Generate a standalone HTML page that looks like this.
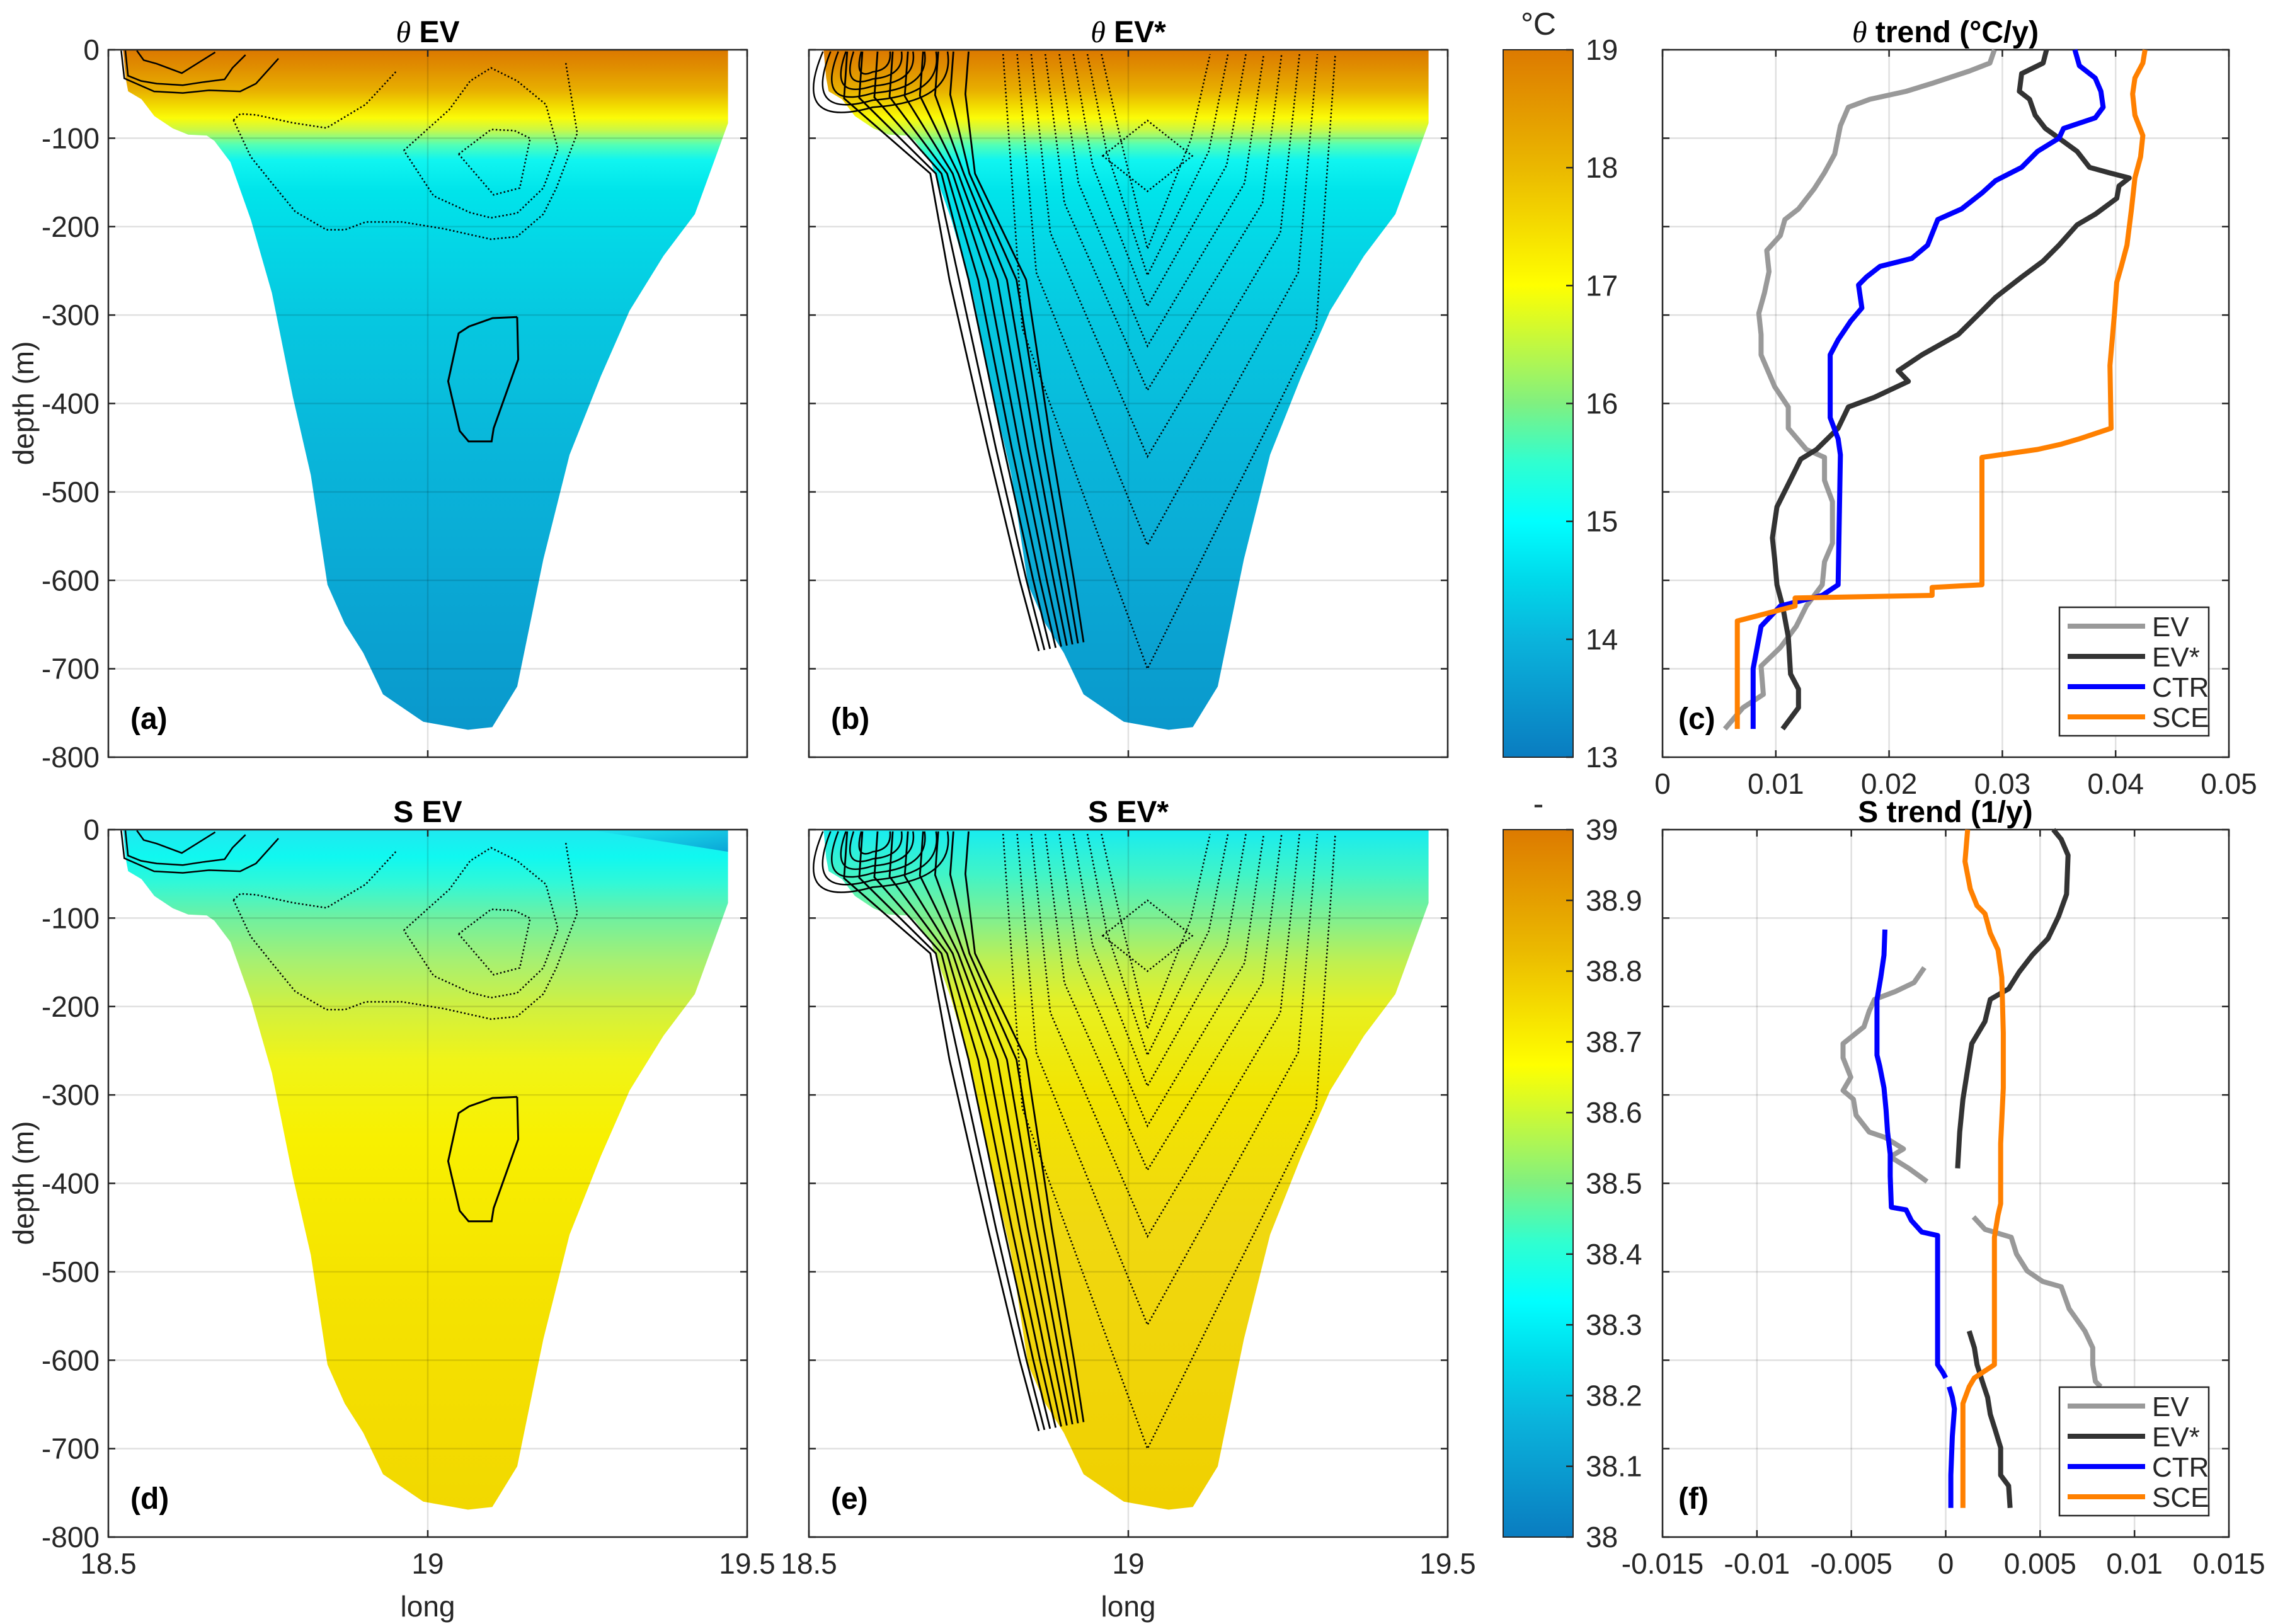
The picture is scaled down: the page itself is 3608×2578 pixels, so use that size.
<!DOCTYPE html>
<html><head><meta charset="utf-8">
<style>
html,body{margin:0;padding:0;background:#fff;}
svg{display:block;font-family:"Liberation Sans",sans-serif;}
</style></head>
<body>
<svg id="fig" width="3608" height="2578" viewBox="0 0 3608 2578" xmlns="http://www.w3.org/2000/svg">
<defs>
<linearGradient id="gTheta" gradientUnits="userSpaceOnUse" x1="0" y1="79" x2="0" y2="1160">
<stop offset="0" stop-color="#dc7800"/><stop offset="0.026" stop-color="#e08e00"/><stop offset="0.06" stop-color="#e8b000"/><stop offset="0.083" stop-color="#f2dc00"/><stop offset="0.1" stop-color="#fbfb08"/><stop offset="0.118" stop-color="#c8f848"/><stop offset="0.14" stop-color="#50ffb8"/><stop offset="0.162" stop-color="#10f5f0"/><stop offset="0.208" stop-color="#00e4ea"/><stop offset="0.286" stop-color="#04d6e6"/><stop offset="0.39" stop-color="#06c8e0"/><stop offset="0.584" stop-color="#09b6da"/><stop offset="0.78" stop-color="#0aa8d4"/><stop offset="1" stop-color="#0a98cc"/>
</linearGradient>
<linearGradient id="gSd" gradientUnits="userSpaceOnUse" x1="0" y1="1317" x2="0" y2="2398">
<stop offset="0" stop-color="#20e8f0"/><stop offset="0.04" stop-color="#10f8f0"/><stop offset="0.078" stop-color="#30f8d8"/><stop offset="0.13" stop-color="#70f0a0"/><stop offset="0.195" stop-color="#a8f070"/><stop offset="0.26" stop-color="#d0f040"/><stop offset="0.338" stop-color="#f0f418"/><stop offset="0.455" stop-color="#f8f000"/><stop offset="0.65" stop-color="#f5e400"/><stop offset="1" stop-color="#f2d800"/>
</linearGradient>
<linearGradient id="gSe" gradientUnits="userSpaceOnUse" x1="0" y1="1317" x2="0" y2="2398">
<stop offset="0" stop-color="#18ecf0"/><stop offset="0.065" stop-color="#40f4c8"/><stop offset="0.13" stop-color="#80f090"/><stop offset="0.195" stop-color="#c0f050"/><stop offset="0.26" stop-color="#e8f020"/><stop offset="0.39" stop-color="#f2e400"/><stop offset="0.584" stop-color="#f0d810"/><stop offset="1" stop-color="#f0d000"/>
</linearGradient>
<linearGradient id="gBar" x1="0" y1="0" x2="0" y2="1">
<stop offset="0" stop-color="#dd7a00"/><stop offset="0.167" stop-color="#eab800"/><stop offset="0.333" stop-color="#ffff00"/><stop offset="0.45" stop-color="#a8f55a"/><stop offset="0.5" stop-color="#80f080"/><stop offset="0.583" stop-color="#30ffd0"/><stop offset="0.667" stop-color="#00ffff"/><stop offset="0.75" stop-color="#00d8ea"/><stop offset="0.833" stop-color="#0ab4dc"/><stop offset="1" stop-color="#0a7cc0"/>
</linearGradient>
<linearGradient id="gDark" x1="0" y1="0" x2="1" y2="1">
<stop offset="0" stop-color="#0a90d0" stop-opacity="0"/><stop offset="1" stop-color="#0a90d0" stop-opacity="0.8"/>
</linearGradient>
</defs>
<g id="root"></g>
</svg>
<script>
// ---- section bathymetry (long, depth) ----
const bathyLong = [18.523,18.527,18.531,18.552,18.572,18.601,18.625,18.654,18.666,18.691,18.723,18.756,18.789,18.817,18.843,18.870,18.899,18.930,18.993,19.063,19.101,19.140,19.181,19.222,19.271,19.316,19.369,19.418,19.470,19.470];
const bathyDepth = [0,-32,-47,-56,-75,-89,-96,-97,-103,-127,-192,-275,-393,-481,-605,-649,-682,-729,-760,-769,-766,-720,-576,-458,-369,-295,-233,-186,-83,0];

// ---- theta trend (c) ----
const cEVdepth = [0,-15,-24,-38,-47,-56,-65,-86,-118,-139,-157,-180,-192,-210,-227,-251,-275,-298,-322,-345,-381,-404,-428,-452,-461,-487,-511,-558,-579,-605,-629,-652,-676,-697,-729,-744,-762,-768];
const cEVval = [0.0293,0.0289,0.0271,0.0238,0.0215,0.0183,0.0164,0.0157,0.0152,0.0143,0.0134,0.0120,0.0108,0.0104,0.0092,0.0094,0.0090,0.0085,0.0087,0.0087,0.0099,0.0111,0.0111,0.0127,0.0143,0.0143,0.0150,0.0150,0.0143,0.0141,0.0127,0.0118,0.0104,0.0087,0.0089,0.0071,0.0059,0.0055];
const cEVsDepth = [0,-15,-27,-47,-56,-74,-89,-100,-115,-133,-139,-145,-154,-168,-186,-198,-221,-239,-257,-280,-298,-322,-345,-363,-375,-393,-404,-428,-452,-463,-481,-517,-552,-576,-605,-629,-664,-706,-723,-744,-768];
const cEVsVal = [0.0339,0.0336,0.0317,0.0315,0.0324,0.0329,0.0338,0.0350,0.0366,0.0377,0.0394,0.0412,0.0403,0.0401,0.0382,0.0366,0.0350,0.0336,0.0317,0.0294,0.0280,0.0261,0.0229,0.0208,0.0217,0.0187,0.0164,0.0155,0.0136,0.0122,0.0115,0.0101,0.0097,0.0099,0.0101,0.0106,0.0111,0.0113,0.0120,0.0120,0.0106];
const cCTRdepth = [0,-18,-32,-47,-65,-77,-89,-100,-115,-133,-148,-162,-180,-192,-221,-236,-245,-257,-266,-292,-307,-328,-345,-416,-440,-458,-605,-617,-629,-652,-700,-768];
const cCTRval = [0.0364,0.0368,0.0382,0.0387,0.0389,0.0382,0.0354,0.0350,0.0331,0.0317,0.0294,0.0282,0.0264,0.0243,0.0234,0.0220,0.0192,0.0180,0.0173,0.0176,0.0166,0.0155,0.0148,0.0148,0.0155,0.0157,0.0155,0.0141,0.0104,0.0087,0.0080,0.0080];
const cSCEdepth = [0,-15,-32,-50,-74,-97,-121,-145,-180,-221,-245,-263,-298,-357,-428,-440,-446,-452,-461,-605,-608,-617,-620,-629,-638,-646,-768];
const cSCEval = [0.0426,0.0424,0.0417,0.0415,0.0417,0.0424,0.0422,0.0417,0.0414,0.0410,0.0405,0.0401,0.0399,0.0395,0.0396,0.0368,0.0352,0.0331,0.0282,0.0282,0.0238,0.0238,0.0117,0.0117,0.0090,0.0066,0.0066];

// ---- salinity trend (f) ----
const fEV1depth = [-156,-173,-183,-192,-205,-223,-242,-258,-280,-295,-305,-323,-342,-348,-361,-370,-383,-398];
const fEV1val = [-0.00113,-0.00168,-0.00266,-0.00377,-0.00405,-0.00433,-0.00544,-0.00544,-0.00503,-0.00544,-0.00489,-0.00475,-0.00405,-0.00322,-0.00224,-0.00294,-0.00196,-0.00099];
const fEV2depth = [-438,-452,-461,-480,-499,-511,-517,-542,-567,-586,-605,-624,-630];
const fEV2val = [0.00147,0.00208,0.00347,0.00375,0.00431,0.00514,0.00612,0.00654,0.00737,0.00779,0.00779,0.00793,0.00821];
const fEVs1depth = [0,-11,-29,-73,-98,-123,-142,-161,-180,-192,-217,-242,-267,-305,-342,-383];
const fEVs1val = [0.0057,0.00612,0.00648,0.0064,0.00598,0.00542,0.00458,0.00389,0.00333,0.00236,0.00208,0.00138,0.00119,0.00091,0.00074,0.00063];
const fEVs2depth = [-567,-586,-605,-624,-642,-661,-680,-699,-730,-742,-767];
const fEVs2val = [0.00124,0.00152,0.00166,0.00194,0.00222,0.00236,0.00264,0.00291,0.00291,0.00333,0.00341];
const fCTR1depth = [-113,-142,-167,-192,-217,-255,-267,-292,-317,-342,-367,-392,-427,-430,-442,-455,-459,-605,-614,-620];
const fCTR1val = [-0.00322,-0.00327,-0.00344,-0.00364,-0.00364,-0.00364,-0.0035,-0.00327,-0.00316,-0.00308,-0.00294,-0.00294,-0.00288,-0.0021,-0.00182,-0.00127,-0.00043,-0.00043,-0.00015,0];
const fCTR2depth = [-630,-642,-655,-686,-730,-767];
const fCTR2val = [0.00018,0.00035,0.00046,0.00035,0.00027,0.00027];
const fSCEdepth = [0,-36,-67,-86,-95,-117,-136,-167,-230,-292,-355,-423,-436,-461,-605,-620,-630,-649,-767];
const fSCEval = [0.00116,0.00102,0.0013,0.00166,0.00208,0.00236,0.00277,0.00297,0.00305,0.00305,0.00291,0.00291,0.00277,0.00258,0.00258,0.00152,0.00124,0.00091,0.00091];

// ---- ticks ----
const depthTicks = [0,-100,-200,-300,-400,-500,-600,-700,-800];
const longTicks = [18.5,19,19.5];
const cTicks = [0,0.01,0.02,0.03,0.04,0.05];
const fTicks = [-0.015,-0.01,-0.005,0,0.005,0.01,0.015];
const thetaBarTicks = [13,14,15,16,17,18,19];
const sBarTicks = [38,38.1,38.2,38.3,38.4,38.5,38.6,38.7,38.8,38.9,39];

const NS = 'http://www.w3.org/2000/svg';
const root = document.getElementById('root');
function mk(tag, attrs, parent, text){
  const e = document.createElementNS(NS, tag);
  for (const k in attrs) e.setAttribute(k, attrs[k]);
  if (text !== undefined) e.textContent = text;
  (parent || root).appendChild(e);
  return e;
}
function axes(x0,x1,y0,y1,xmin,xmax,ymin,ymax){
  return {x0,x1,y0,y1,
    sx: v => x0 + (v-xmin)/(xmax-xmin)*(x1-x0),
    sy: v => y1 - (v-ymin)/(ymax-ymin)*(y1-y0)};
}
const TC = '#262626';
function txt(x,y,s,size,anchor,weight,name,parent){
  const t = mk('text',{x:x,y:y,'font-size':size,'text-anchor':anchor||'middle','fill':weight==='bold'?'#000':TC,'font-weight':weight||'normal'},parent,s);
  
  
  return t;
}
function frame(ax, xt, yt, showX, showY, name){
  const g = mk('g',{});
  
  
  xt.forEach(v=>{ const x=ax.sx(v); mk('line',{x1:x,x2:x,y1:ax.y0,y2:ax.y1,stroke:'#000','stroke-opacity':0.12,'stroke-width':2.5},g); });
  yt.forEach(v=>{ const y=ax.sy(v); mk('line',{x1:ax.x0,x2:ax.x1,y1:y,y2:y,stroke:'#000','stroke-opacity':0.12,'stroke-width':2.5},g); });
  xt.forEach(v=>{ const x=ax.sx(v);
    mk('line',{x1:x,x2:x,y1:ax.y1,y2:ax.y1-11,stroke:TC,'stroke-width':2.5},g);
    mk('line',{x1:x,x2:x,y1:ax.y0,y2:ax.y0+11,stroke:TC,'stroke-width':2.5},g);
    if(showX){ txt(x, ax.y1+58, String(v), 46, 'middle', 'normal', 'x-tick-label', g); }
  });
  yt.forEach(v=>{ const y=ax.sy(v);
    mk('line',{x1:ax.x0,x2:ax.x0+11,y1:y,y2:y,stroke:TC,'stroke-width':2.5},g);
    mk('line',{x1:ax.x1,x2:ax.x1-11,y1:y,y2:y,stroke:TC,'stroke-width':2.5},g);
    if(showY){ txt(ax.x0-14, y+16, String(v), 46, 'end', 'normal', 'y-tick-label', g); }
  });
  mk('rect',{x:ax.x0,y:ax.y0,width:ax.x1-ax.x0,height:ax.y1-ax.y0,fill:'none',stroke:TC,'stroke-width':2.5},g);
}
function section(ax, fill, name){
  let d='';
  bathyLong.forEach((v,i)=>{ d += (i?'L':'M') + ax.sx(v).toFixed(1) + ',' + ax.sy(bathyDepth[i]).toFixed(1); });
  const p = mk('path',{d:d+'Z',fill:fill});
  
  
}
function contourPx(pts, dy, dashed, w){
  const d = pts.map((p,i)=>(i?'L':'M')+(p[0]/1.206).toFixed(1)+','+(p[1]/1.206+dy).toFixed(1)).join('');
  const c = mk('path',{d:d,fill:'none',stroke:'#000','stroke-width':w||2.5,'stroke-dasharray':dashed?'2.5 3.5':'none'});
  
  
}
function contoursA(dy){
  contourPx([[990,607],[943,609],[898,625],[878,638],[858,730],[880,825],[897,845],[941,845],[945,820],[992,688],[990,607]],dy,false,3);
  contourPx([[878,295],[940,248],[985,250],[1015,265],[995,360],[945,373],[878,295]],dy,true);
  contourPx([[773,288],[860,210],[900,155],[940,130],[990,155],[1045,200],[1068,285],[1040,360],[990,408],[940,417],[900,407],[830,375],[773,288]],dy,true);
  contourPx([[447,230],[460,218],[490,220],[560,235],[625,245],[700,200],[760,135]],dy,true);
  contourPx([[447,230],[480,300],[520,350],[565,405],[625,440],[660,440],[700,425],[770,425],[850,438],[940,458],[990,453],[1040,410],[1065,360],[1105,255],[1083,120]],dy,true);
  contourPx([[262,97],[275,115],[300,122],[348,140],[380,120],[412,100]],dy,false);
  contourPx([[240,97],[245,145],[270,155],[300,160],[350,163],[390,157],[430,152],[445,130],[470,105]],dy,false);
  contourPx([[232,97],[238,150],[295,175],[350,178],[400,173],[460,175],[490,160],[533,112]],dy,false);
}
function contoursB(ax){
  const g = mk('g',{});
  
  
  for(let k=0;k<9;k++){
    const t=k/8;
    const topL = 18.56 + t*0.19;
    const pts=[[topL,-2],[topL-0.005,-55+ t*5],[18.69+t*0.07,-140],[18.72+t*0.12,-260],[18.78+t*0.1,-450],[18.83+t*0.085,-600],[18.86+t*0.07,-680+t*10]];
    const d=pts.map((p,i)=>(i?'L':'M')+ax.sx(p[0]).toFixed(1)+','+ax.sy(p[1]).toFixed(1)).join('');
    mk('path',{d:d,fill:'none',stroke:'#000','stroke-width':2.8},g);
  }
  for(let k=0;k<6;k++){
    const w=0.03+k*0.02, dd=25+k*8;
    const cx=18.60;
    const d='M'+ax.sx(cx-w*0.6)+','+ax.sy(-2)+'Q'+ax.sx(cx-w)+','+ax.sy(-dd*1.4)+' '+ax.sx(cx)+','+ax.sy(-dd)+'Q'+ax.sx(cx+w)+','+ax.sy(-dd*0.9)+' '+ax.sx(cx+w*0.9)+','+ax.sy(-2);
    mk('path',{d:d,fill:'none',stroke:'#000','stroke-width':2.5},g);
  }
  const apex=[-700,-560,-460,-385,-335,-290,-255,-225];
  apex.forEach((a,k)=>{
    const wl=0.02+ (apex.length-k)*0.022, wr=0.04+(apex.length-k)*0.028;
    const d='M'+ax.sx(19.03-wl-0.03)+','+ax.sy(-5)+'L'+ax.sx(19.03-wl)+','+ax.sy(a*0.45)+'L'+ax.sx(19.03)+','+ax.sy(a)+'L'+ax.sx(19.03+wr)+','+ax.sy(a*0.45)+'L'+ax.sx(19.03+wr+0.03)+','+ax.sy(-5);
    mk('path',{d:d,fill:'none',stroke:'#000','stroke-width':2.5,'stroke-dasharray':'2.5 3.5'},g);
  });
  const d2='M'+ax.sx(18.96)+','+ax.sy(-120)+'L'+ax.sx(19.03)+','+ax.sy(-80)+'L'+ax.sx(19.1)+','+ax.sy(-120)+'L'+ax.sx(19.03)+','+ax.sy(-160)+'Z';
  mk('path',{d:d2,fill:'none',stroke:'#000','stroke-width':2.5,'stroke-dasharray':'2.5 3.5'},g);
}
function series(ax, dep, val, color, name){
  const d = val.map((v,i)=>(i?'L':'M')+ax.sx(v).toFixed(1)+','+ax.sy(dep[i]).toFixed(1)).join('');
  const p = mk('path',{d:d,fill:'none',stroke:color,'stroke-width':8,'stroke-linejoin':'round'});
  
  
}
function legend(x,y){
  const g = mk('g',{});
  
  
  mk('rect',{x:x,y:y,width:237,height:204,fill:'#fff',stroke:TC,'stroke-width':2.5},g);
  const names=['EV','EV*','CTR','SCE'], cols=['#999999','#333333','#0000ff','#ff8000'];
  names.forEach((n,i)=>{
    const yy=y+30+i*48;
    const l = mk('line',{x1:x+13,x2:x+136,y1:yy,y2:yy,stroke:cols[i],'stroke-width':8},g);
    
    
    txt(x+147, yy+16, n, 44, 'start', 'normal', 'legend-entry', g);
  });
}
function colorbar(x,y0,y1,ticks,vmin,vmax,unit,name){
  const g = mk('g',{});
  
  
  mk('rect',{x:x,y:y0,width:111,height:y1-y0,fill:'url(#gBar)',stroke:TC,'stroke-width':2},g);
  ticks.forEach(v=>{
    const y = y1-(v-vmin)/(vmax-vmin)*(y1-y0);
    mk('line',{x1:x+111,x2:x+100,y1:y,y2:y,stroke:TC,'stroke-width':2.5},g);
    txt(x+131, y+16, String(v), 46, 'start', 'normal', 'colorbar-tick-label', g);
  });
  txt(x+56, y0-24, unit, 50, 'middle', 'normal', 'colorbar-unit', g);
}

const A = axes(172,1186,79,1202,18.5,19.5,-800,0);
const B = axes(1284,2298,79,1202,18.5,19.5,-800,0);
const C = axes(2639,3538,79,1202,0,0.05,-800,0);
const D = axes(172,1186,1317,2440,18.5,19.5,-800,0);
const E = axes(1284,2298,1317,2440,18.5,19.5,-800,0);
const F = axes(2639,3538,1317,2440,-0.015,0.015,-800,0);

section(A,'url(#gTheta)','theta-ev-section');
section(B,'url(#gTheta)','theta-evstar-section');
section(D,'url(#gSd)','s-ev-section');
section(E,'url(#gSe)','s-evstar-section');
// darker surface patch top-right of (d)
const dp = mk('path',{d:'M'+D.sx(19.25)+','+D.sy(0)+'L'+D.sx(19.47)+','+D.sy(0)+'L'+D.sx(19.47)+','+D.sy(-25)+'Z',fill:'url(#gDark)'});


contoursA(0); contoursA(1238);
contoursB(B); contoursB(E);

frame(A,longTicks,depthTicks,false,true,'axes-a');
frame(B,longTicks,depthTicks,false,false,'axes-b');
frame(C,cTicks,depthTicks,true,false,'axes-c');
frame(D,longTicks,depthTicks,true,true,'axes-d');
frame(E,longTicks,depthTicks,true,false,'axes-e');
frame(F,fTicks,depthTicks,true,false,'axes-f');

series(C,cEVdepth,cEVval,'#999999','c-ev-line');
series(C,cEVsDepth,cEVsVal,'#333333','c-evstar-line');
series(C,cCTRdepth,cCTRval,'#0000ff','c-ctr-line');
series(C,cSCEdepth,cSCEval,'#ff8000','c-sce-line');
series(F,fEV1depth,fEV1val,'#999999','f-ev-line-upper');
series(F,fEV2depth,fEV2val,'#999999','f-ev-line-lower');
series(F,fEVs1depth,fEVs1val,'#333333','f-evstar-line-upper');
series(F,fEVs2depth,fEVs2val,'#333333','f-evstar-line-lower');
series(F,fCTR1depth,fCTR1val,'#0000ff','f-ctr-line-upper');
series(F,fCTR2depth,fCTR2val,'#0000ff','f-ctr-line-lower');
series(F,fSCEdepth,fSCEval,'#ff8000','f-sce-line');
legend(3269,964);
legend(3269,2202);

colorbar(2386,79,1202,thetaBarTicks,13,19,'°C','theta-colorbar');
colorbar(2386,1317,2440,sBarTicks,38,39,'-','s-colorbar');

function title(x,y,italic,rest,name){
  const t = mk('text',{x:x,y:y,'font-size':48,'text-anchor':'middle','font-weight':'bold',fill:'#000'});
  
  
  if(italic){ mk('tspan',{'font-family':'Liberation Serif, serif','font-style':'italic','font-weight':'normal'},t,italic); }
  mk('tspan',{},t,rest);
}
title(679,67,'θ',' EV','title-a');
title(1791,67,'θ',' EV*','title-b');
title(3088,67,'θ',' trend (°C/y)','title-c');
title(679,1305,'','S EV','title-d');
title(1791,1305,'','S EV*','title-e');
title(3088,1305,'','S trend (1/y)','title-f');

[['(a)',207,1157],['(b)',1319,1157],['(c)',2664,1157],['(d)',207,2395],['(e)',1319,2395],['(f)',2664,2395]].forEach(p=>{
  txt(p[1],p[2],p[0],48,'start','bold','panel-label');
});

function ylab(cy,name){
  const t = txt(0,0,'depth (m)',46,'middle','normal',name);
  t.setAttribute('transform','translate(53,'+cy+') rotate(-90)');
}
ylab(640,'y-axis-title-top'); ylab(1878,'y-axis-title-bottom');
txt(679,2566,'long',46,'middle','normal','x-axis-title-d');
txt(1791,2566,'long',46,'middle','normal','x-axis-title-e');
</script>
</body></html>
